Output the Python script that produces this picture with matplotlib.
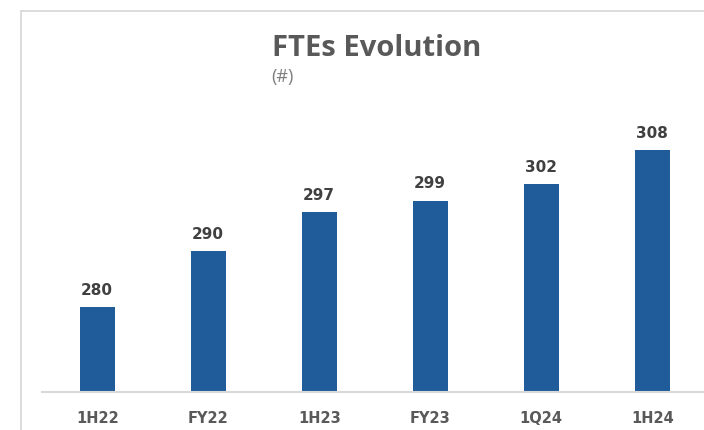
import matplotlib
matplotlib.use("Agg")
import matplotlib.pyplot as plt
from matplotlib.lines import Line2D

categories = ["1H22", "FY22", "1H23", "FY23", "1Q24", "1H24"]
values = [280, 290, 297, 299, 302, 308]
title = "FTEs Evolution"
subtitle = "(#)"

W, H = 704, 431
fig = plt.figure(figsize=(W / 100, H / 100), dpi=100)
fig.patch.set_facecolor("white")

def fx(px):
    return px / W

def fy(py):
    return (H - py) / H

# frame lines
fig.add_artist(Line2D([fx(21), fx(21)], [fy(12), fy(H + 5)], color="#d9d9d9", lw=1.3))
fig.add_artist(Line2D([fx(21), fx(W + 5)], [fy(12), fy(12)], color="#d9d9d9", lw=1.3))

ax_left, ax_right = 41.7, 707.7
ax_bottom, ax_top = 392.5, 100
ax = fig.add_axes([fx(ax_left), fy(ax_bottom), (ax_right - ax_left) / W, (ax_bottom - ax_top) / H])
ax.set_facecolor("none")

x = list(range(len(categories)))
bars = ax.bar(x, values, width=0.315, color="#1f5c99", zorder=3)
ax.set_xlim(-0.5, 5.5)
ax.set_ylim(265, 317.1)

for xi, v in zip(x, values):
    ax.annotate(f"{v}", (xi, v), xytext=(0, 9.5), textcoords="offset points",
                ha="center", va="baseline", fontsize=11, fontweight="bold",
                color="#404040", family="DejaVu Sans")

ax.set_xticks(x)
ax.set_xticklabels(categories, fontsize=10.5, fontweight="bold", color="#595959",
                   family="DejaVu Sans")
ax.tick_params(axis="x", length=0, pad=13)
ax.set_yticks([])
for s in ["left", "right", "top"]:
    ax.spines[s].set_visible(False)
ax.spines["bottom"].set_color("#d9d9d9")
ax.spines["bottom"].set_linewidth(1.5)
ax.spines["bottom"].set_zorder(4)

fig.text(fx(271.5), fy(56), title, ha="left", va="baseline", fontsize=21,
         fontweight="bold", color="#595959", family="Open Sans")
fig.text(fx(271.5), fy(82), subtitle, ha="left", va="baseline", fontsize=13,
         color="#7f7f7f", family="Open Sans")

fig.savefig("out.png", dpi=100)
